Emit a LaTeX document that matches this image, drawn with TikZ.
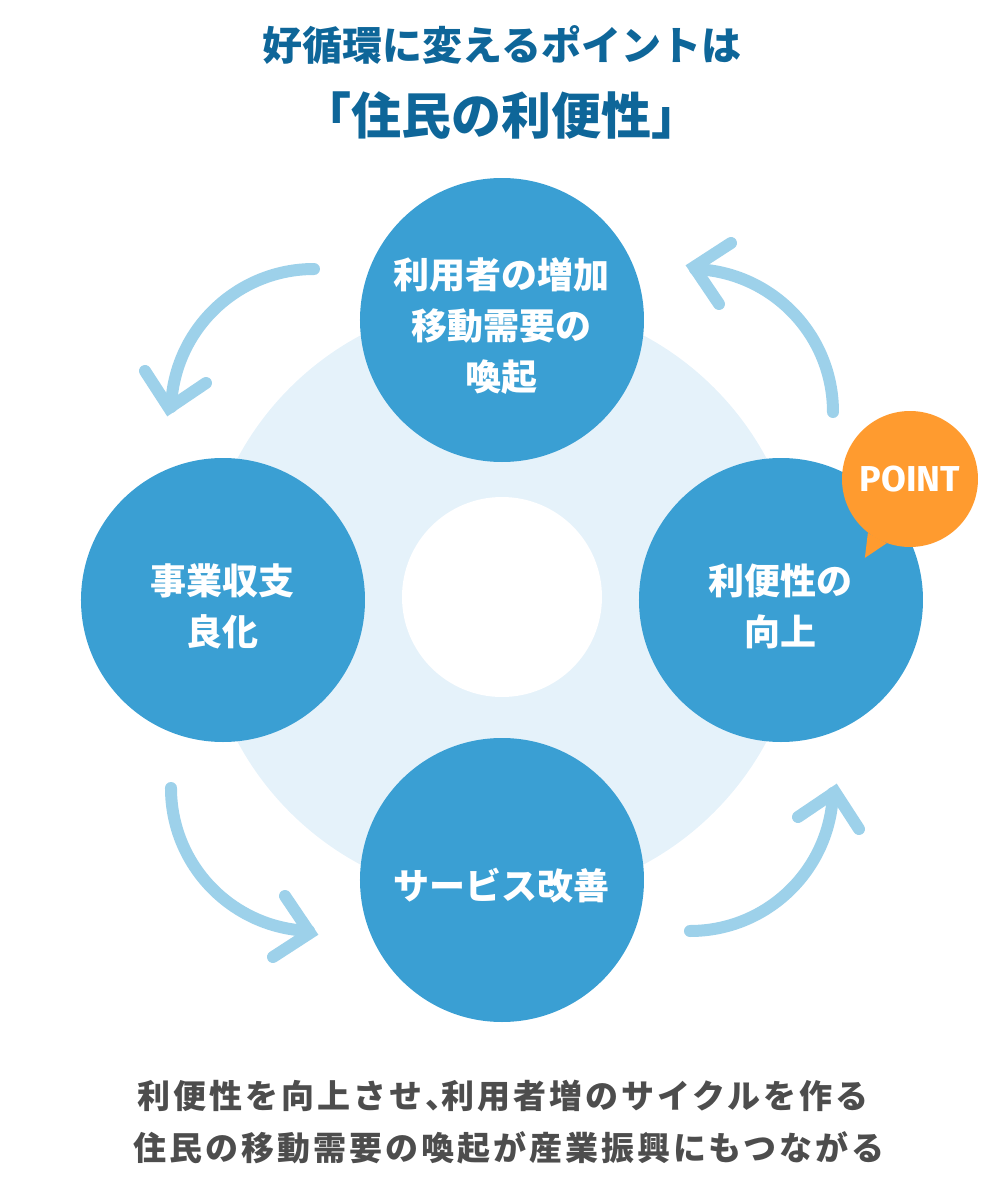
\documentclass[tikz,border=0pt]{standalone}
\usepackage{fontspec}
\setmainfont{Noto Sans CJK JP}
\newfontfamily\captionfont{Noto Sans CJK JP}[LetterSpace=9]
\newfontfamily\pointfont{Fira Sans}
\definecolor{titleblue}{HTML}{0E6699}
\definecolor{stepblue}{HTML}{3A9FD3}
\definecolor{paleblue}{HTML}{E5F2FA}
\definecolor{arrowblue}{HTML}{9DD1EA}
\definecolor{pointorange}{HTML}{FF9B2F}
\definecolor{captiongray}{HTML}{4D4D4D}
\tikzset{
    stepcircle/.style={circle, fill=stepblue, minimum size=142pt, inner sep=0pt,
        label={[steptext]center:{#1}}},
    steptext/.style={text=white, align=center, yshift=-3pt,
        font=\bfseries\fontsize{18}{25.5}\selectfont},
    pointbubble/.style={circle, fill=pointorange, minimum size=68pt, inner sep=0pt,
        text=white, font=\pointfont\bfseries\fontsize{18}{18}\selectfont},
    captionline/.style={text=captiongray, font=\captionfont\bfseries\fontsize{16.5}{16.5}\selectfont},
    arrowstroke/.style={arrowblue, line width=6pt, line cap=round},
    cyclearrow/.pic={
        \draw[arrowstroke] (331, 188) arc[start angle=0, end angle=88, radius=143];
        \draw[arrowstroke] (229, 357) -- (192, 333) -- (217, 296);
    },
}

\begin{document}
\begin{tikzpicture}[x=0.5pt, y=0.5pt]
        \useasboundingbox (-502, -580) rectangle (502, 600);
        \node[text=titleblue, font=\bfseries\fontsize{20}{20}\selectfont] (heading)
            at (0, 555) {好循環に変えるポイントは};
        \node[text=titleblue, font=\bfseries\fontsize{25}{25}\selectfont] (keyword)
            at (0, 485) {「住民の利便性」};
        \fill[paleblue] (0, 0) circle[radius=300];
        \fill[white] (0, 3) circle[radius=100];
        \foreach \r in {0, 90, 180, 270}
            \pic[rotate=\r] {cyclearrow};
        \node[stepcircle={利用者の増加\\移動需要の\\喚起}] (demand) at (0, 280) {};
        \node[stepcircle={事業収支\\良化}] (revenue) at (-279, 0) {};
        \node[steptext/.append style={yshift=2pt}, stepcircle={サービス改善}] (service)
            at (0, -280) {};
        \node[stepcircle={利便性の\\向上}] (convenience) at (279, 0) {};
        \node[pointbubble] (bubble) at (408, 121) {POINT};
        \fill[pointorange] (bubble.232) -- ++(-3, -25) -- (bubble.250) -- cycle;
        \node[captionline] (cycletext) at (1, -495.5)
            {利便性を向上させ、\kern-0.5em利用者増のサイクルを作る};
        \node[captionline] (effecttext) at (7, -547.5)
            {住民の移動需要の喚起が産業振興にもつながる};
    \end{tikzpicture}
\end{document}
